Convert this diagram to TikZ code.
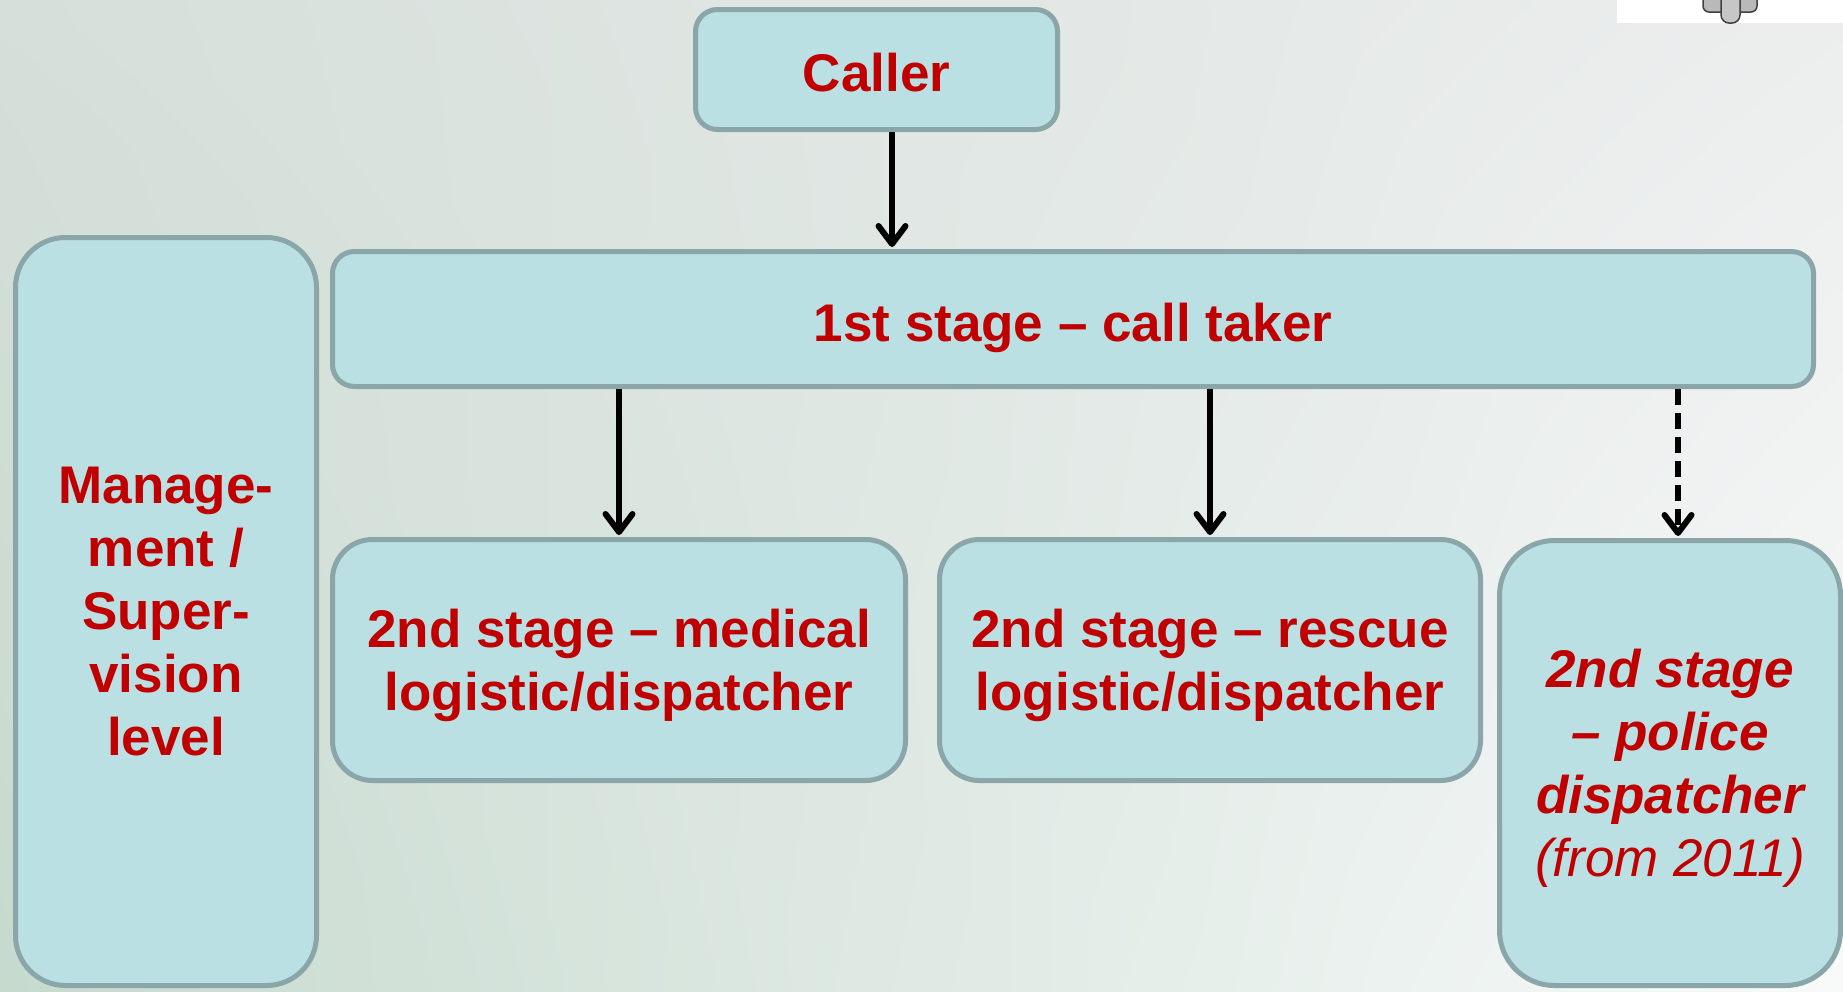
\documentclass[tikz,border=0pt]{standalone}
\usepackage{fontspec}
\setmainfont{Liberation Sans}
\usepackage{xcolor}
\usetikzlibrary{arrows.meta, shadings}

\definecolor{boxfill}{HTML}{BAE0E3}
\definecolor{boxline}{HTML}{8AA6A9}
\definecolor{txtred}{HTML}{C00000}
\definecolor{bgul}{RGB}{214,223,218}
\definecolor{bgll}{RGB}{198,218,206}
\definecolor{bgur}{RGB}{236,238,238}
\definecolor{bglr}{RGB}{248,250,250}

\begin{document}
\begin{tikzpicture}[
    x=1pt, y=-1pt,
    box/.style={draw=boxline, line width=5pt, fill=boxfill, rounded corners=#1,
                inner sep=0pt, align=center, text=txtred,
                font=\fontsize{53}{63}\selectfont\bfseries},
    box/.default=22pt,
    arrow/.style={-{Straight Barb[length=18pt, width=27pt, round]}, line width=6pt, black},
]
\useasboundingbox (0,0) rectangle (1843,991);
\shade[upper left=bgul, lower left=bgll, upper right=bgur, lower right=bglr]
    (0,0) rectangle (1843,991);

% corner of a picture at the top right
\fill[white] (1617,0) rectangle (1843,23);
\draw[fill=gray!55, draw=black!75, line width=1.5pt, rounded corners=6pt] (1703,-8) rectangle (1757,12);
\draw[fill=gray!45, draw=black!75, line width=1.5pt, rounded corners=8pt] (1721,-8) rectangle (1740,23);

\node[box, text height=44pt, text depth=0pt] (caller) at (876.5,69.5)
    [minimum width=362pt, minimum height=120pt] {Caller};
\node[box, text height=44pt, text depth=0pt] (stage1) at (1073,319)
    [minimum width=1481pt, minimum height=135pt] {1st stage -- call taker};
\node[box=50pt, text depth=-10pt] (mgmt) at (166,611.5) [minimum width=301pt, minimum height=748pt]
    {Manage-\\ment /\\Super-\\vision\\level};
\node[box=40pt, text depth=-3pt] (medical) at (619,660) [minimum width=573pt, minimum height=241pt]
    {2nd stage -- medical\\logistic/dispatcher};
\node[box=40pt, text depth=-3pt] (rescue) at (1210,660) [minimum width=541pt, minimum height=241pt]
    {2nd stage -- rescue\\logistic/dispatcher};
\node[box=55pt, text depth=-7pt] (police) at (1670,763) [minimum width=341pt, minimum height=445pt]
    {\itshape 2nd stage\\\itshape -- police\\\itshape dispatcher\\\mdseries\itshape (from 2011)};

\draw[arrow, shorten >=2pt] ([xshift=15.5pt]caller.south) -- ([xshift=15.5pt]caller.south |- stage1.north);
\draw[arrow, shorten >=2pt] (stage1.south -| medical.north) -- (medical.north);
\draw[arrow, shorten >=2pt] (stage1.south -| rescue.north) -- (rescue.north);
\draw[arrow, shorten >=2pt, dash pattern=on 16pt off 8pt] ([xshift=8pt]stage1.south -| police.north) -- ([xshift=8pt]police.north);
\end{tikzpicture}
\end{document}
